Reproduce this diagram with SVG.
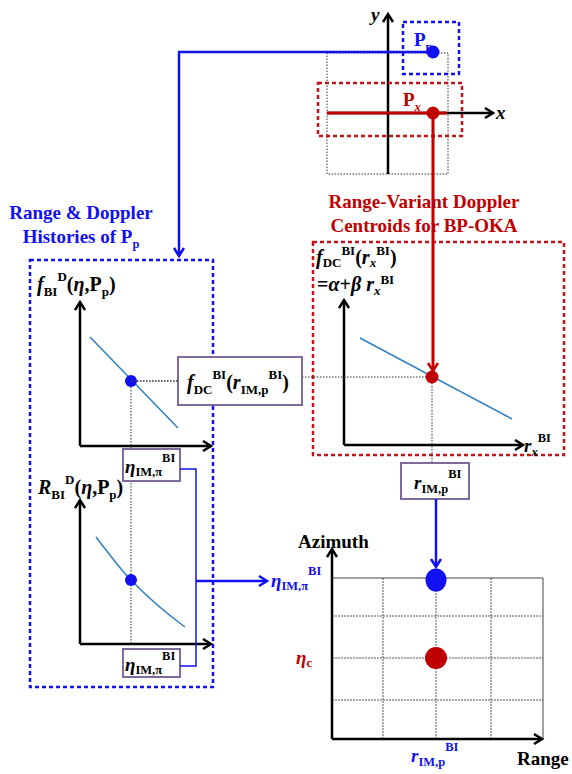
<svg xmlns="http://www.w3.org/2000/svg" width="572" height="774" viewBox="0 0 572 774">
<style>
text{font-family:"Liberation Serif","Times New Roman",serif;font-weight:bold;font-size:19px;fill:#000}
.i{font-style:italic}
.s{font-size:12.5px}
.m{font-size:20px}
.m .s{font-size:13px}
.blue{fill:#1010f0}
.red{fill:#c00000}
.ax{stroke:#000;stroke-width:2.5;fill:none}
.dot{stroke:#333;stroke-width:1;stroke-dasharray:1.5 1.5;fill:none}
.grid{stroke:#555;stroke-width:1;stroke-dasharray:2 1;fill:none}
.bdash{stroke:#1010f0;stroke-width:2.5;stroke-dasharray:4 3;fill:none}
.rdash{stroke:#c0141c;stroke-width:2.5;stroke-dasharray:4 3;fill:none}
.pbox{stroke:#7f6a9e;stroke-width:2;fill:#fff}
.curve{stroke:#2f7fc1;stroke-width:1.5;fill:none}
</style>
<defs>
<marker id="ak" markerUnits="userSpaceOnUse" markerWidth="14" markerHeight="14" refX="10" refY="6" orient="auto"><path d="M2,1 L10,6 L2,11" fill="none" stroke="#000" stroke-width="2.5"/></marker>
<marker id="ab" markerUnits="userSpaceOnUse" markerWidth="14" markerHeight="14" refX="10" refY="6" orient="auto"><path d="M2,1 L10,6 L2,11" fill="none" stroke="#1010f0" stroke-width="2.5"/></marker>
<marker id="ar" markerUnits="userSpaceOnUse" markerWidth="14" markerHeight="14" refX="10" refY="6" orient="auto"><path d="M2,1 L10,6 L2,11" fill="none" stroke="#c00000" stroke-width="2.5"/></marker>
</defs>

<g id="scene-top">
<rect x="327" y="53" width="121" height="121" class="dot"/>
<line x1="388" y1="174" x2="388" y2="14" class="ax" stroke-width="2" marker-end="url(#ak)"/>
<line x1="327" y1="113" x2="493" y2="113" class="ax" stroke-width="2" marker-end="url(#ak)"/>
<text x="371" y="21" class="i">y</text>
<text x="496" y="119" class="i">x</text>
<rect x="403" y="22" width="56" height="52" class="bdash"/>
<rect x="318" y="83" width="144" height="53" class="rdash"/>
<line x1="327" y1="113" x2="447" y2="113" stroke="#c00000" stroke-width="3"/>
<text x="414" y="46" class="blue">P<tspan class="s" dy="5">p</tspan></text>
<text x="403" y="106" class="red">P<tspan class="s i" dy="5">x</tspan></text>
<circle cx="433" cy="52" r="6.5" fill="#1010f0"/>
<circle cx="433" cy="113" r="6.5" fill="#c00000"/>
</g>

<g id="left-panel">
<text x="81" y="219" text-anchor="middle" class="blue" font-size="20.5">Range &amp; Doppler</text>
<text x="81" y="243" text-anchor="middle" class="blue" font-size="20.5">Histories of P<tspan class="s" font-size="13" dy="5">p</tspan></text>
<rect x="30" y="260" width="183" height="427" class="bdash"/>
<text x="37" y="291" class="m"><tspan class="i">f</tspan><tspan class="s" dy="5">BI</tspan><tspan class="s" dy="-15">D</tspan><tspan dy="10">(</tspan><tspan class="i">η</tspan>,P<tspan class="s" dy="5">p</tspan><tspan dy="-5">)</tspan></text>
<line x1="80" y1="446" x2="80" y2="302" class="ax" marker-end="url(#ak)"/>
<line x1="80" y1="446" x2="211" y2="446" class="ax" marker-end="url(#ak)"/>
<line x1="90" y1="337" x2="178" y2="428" class="curve"/>
<line x1="131" y1="381" x2="180" y2="381" class="dot"/>
<line x1="131" y1="381" x2="131" y2="643" class="dot"/>
<circle cx="131" cy="381" r="6" fill="#1010f0"/>
<text x="38" y="494" class="m"><tspan class="i">R</tspan><tspan class="s" dy="5">BI</tspan><tspan class="s" dy="-15">D</tspan><tspan dy="10">(</tspan><tspan class="i">η</tspan>,P<tspan class="s" dy="5">p</tspan><tspan dy="-5">)</tspan></text>
<line x1="80" y1="644" x2="80" y2="500" class="ax" marker-end="url(#ak)"/>
<line x1="80" y1="644" x2="211" y2="644" class="ax" marker-end="url(#ak)"/>
<path d="M96,537 Q125,575 131,580 Q155,605 185,627" class="curve"/>
<circle cx="131" cy="580" r="6" fill="#1010f0"/>
</g>

<g id="box-eta-top">
<rect x="123" y="449" width="57" height="32" class="pbox"/>
<text x="125" y="473"><tspan class="i">η</tspan><tspan class="s" dy="3">IM,π</tspan><tspan class="s" dy="-14">BI</tspan></text>
</g>
<g id="box-eta-bottom">
<rect x="123" y="649" width="57" height="28" class="pbox"/>
<text x="125" y="671"><tspan class="i">η</tspan><tspan class="s" dy="3">IM,π</tspan><tspan class="s" dy="-14">BI</tspan></text>
</g>

<g id="right-panel">
<text x="424" y="208" text-anchor="middle" class="red" font-size="20.5">Range-Variant Doppler</text>
<text x="424" y="232" text-anchor="middle" class="red" font-size="20.5">Centroids for BP-OKA</text>
<rect x="313" y="242" width="251" height="213" class="rdash"/>
<text x="316" y="264" class="m"><tspan class="i">f</tspan><tspan class="s" dy="3">DC</tspan><tspan class="s" dy="-12">BI</tspan><tspan dy="9">(</tspan><tspan class="i">r</tspan><tspan class="s i" dy="3">x</tspan><tspan class="s" dy="-12">BI</tspan><tspan dy="9">)</tspan></text>
<text x="317" y="291" class="m">=<tspan class="i">α</tspan>+<tspan class="i">β r</tspan><tspan class="s i" dy="4">x</tspan><tspan class="s" dy="-11">BI</tspan></text>
<line x1="344" y1="445" x2="344" y2="300" class="ax" marker-end="url(#ak)"/>
<line x1="344" y1="445" x2="523" y2="445" class="ax" marker-end="url(#ak)"/>
<line x1="360" y1="338" x2="512" y2="419" class="curve"/>
<line x1="302" y1="377" x2="432" y2="377" class="dot"/>
<line x1="432" y1="377" x2="432" y2="463" class="dot"/>
<text x="524" y="452"><tspan class="i">r</tspan><tspan class="s i" dy="4">x</tspan><tspan class="s" dy="-14">BI</tspan></text>
<circle cx="432" cy="377" r="6.5" fill="#c00000"/>
</g>

<g id="box-fdc">
<rect x="178" y="357" width="124" height="48" class="pbox"/>
<text x="187" y="389" class="m"><tspan class="i">f</tspan><tspan class="s" dy="5">DC</tspan><tspan class="s" dy="-15">BI</tspan><tspan dy="10">(</tspan><tspan class="i">r</tspan><tspan class="s" dy="5">IM,p</tspan><tspan class="s" dy="-15">BI</tspan><tspan dy="10">)</tspan></text>
</g>
<line x1="131" y1="381" x2="178" y2="381" class="dot"/>

<g id="box-r">
<rect x="401" y="463" width="68" height="36" class="pbox"/>
<text x="414" y="489"><tspan class="i">r</tspan><tspan class="s" dy="4">IM,p</tspan><tspan class="s" dy="-15">BI</tspan></text>
</g>

<g id="grid-plot">
<line x1="332" y1="616" x2="543" y2="616" class="grid"/>
<line x1="332" y1="658" x2="543" y2="658" class="grid"/>
<line x1="332" y1="700" x2="543" y2="700" class="grid"/>
<line x1="383" y1="578" x2="383" y2="739" class="grid"/>
<line x1="436" y1="578" x2="436" y2="739" class="grid"/>
<line x1="491" y1="578" x2="491" y2="739" class="grid"/>
<polyline points="332,578 543,578 543,739" fill="none" stroke="#444" stroke-width="1"/>
<line x1="332" y1="739" x2="332" y2="549" class="ax" marker-end="url(#ak)"/>
<line x1="332" y1="739" x2="542" y2="739" class="ax" marker-end="url(#ak)"/>
<text x="298" y="548">Azimuth</text>
<text x="517" y="765">Range</text>
<text x="296" y="664" class="red"><tspan class="i">η</tspan><tspan class="s" dy="3">c</tspan></text>
<text x="411" y="762" class="blue"><tspan class="i">r</tspan><tspan class="s" dy="4">IM,p</tspan><tspan class="s" dy="-15">BI</tspan></text>
<ellipse cx="436" cy="580" rx="10.5" ry="11.5" fill="#1010f0"/>
<circle cx="436" cy="658" r="11" fill="#c00000"/>
</g>

<g id="connectors">
<polyline points="433,52 179,52 179,256" fill="none" stroke="#1010f0" stroke-width="2.5" marker-end="url(#ab)"/>
<line x1="433" y1="113" x2="433" y2="371" stroke="#c00000" stroke-width="3" marker-end="url(#ar)"/>
<line x1="436" y1="499" x2="436" y2="567" stroke="#1010f0" stroke-width="2.5" marker-end="url(#ab)"/>
<polyline points="180,469 196,469 196,666 180,666" fill="none" stroke="#1010f0" stroke-width="1.5"/>
<line x1="196" y1="581" x2="267" y2="581" stroke="#1010f0" stroke-width="2.5" marker-end="url(#ab)"/>
<text x="271" y="587" class="blue"><tspan class="i">η</tspan><tspan class="s" dy="3">IM,π</tspan><tspan class="s" dy="-15">BI</tspan></text>
</g>
</svg>
